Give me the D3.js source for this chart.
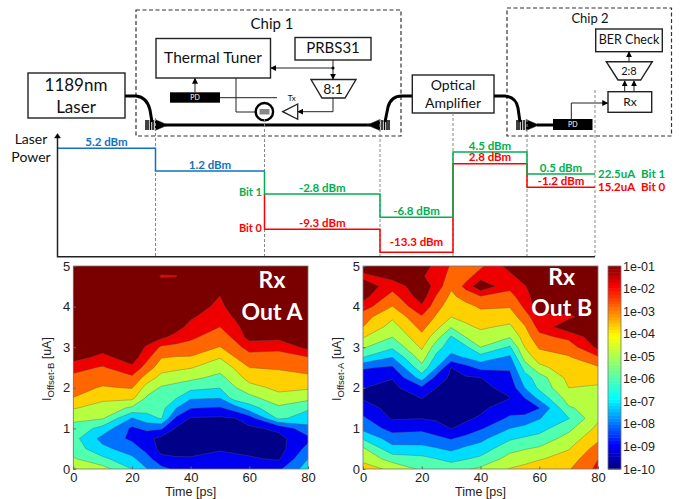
<!DOCTYPE html>
<html>
<head>
<meta charset="utf-8">
<style>
  html, body { margin: 0; padding: 0; background: #fff; }
  svg { display: block; }
  text { font-family: Lato, "Open Sans", sans-serif; }
  .axis text, text.plot-label { font-family: "Liberation Sans", Arial, sans-serif; fill: #222; }
</style>
</head>
<body>
<div id="container"></div>
<script src="https://cdn.jsdelivr.net/npm/d3@7/dist/d3.min.js"></script>
<script>
// time and current samples shared by both contour maps
const timesPs = [0, 10, 20, 25, 30, 35, 40, 50, 55, 60, 70, 80];
const currentsUa = [0, 0.25, 0.5, 0.75, 1, 1.25, 1.5, 1.75, 2, 2.25, 2.5, 2.75, 3, 3.25, 3.5, 3.75, 4, 4.25, 4.5, 4.75, 5];

// log10(BER), one row per time sample
const berOutA = [
  [-3.9, -4.9, -5.45, -5.65, -5.3, -4.8, -3.93, -3.02, -2.65, -2.28, -1.6, -0.57, -0.3, -0.3, -0.3, -0.3, -0.3, -0.3, -0.3, -0.3, -0.3],
  [-4.6, -5.77, -6.74, -7.33, -6.37, -4.9, -4.38, -3.8, -3.09, -2.58, -2.1, -1.29, -0.56, -0.3, -0.3, -0.3, -0.3, -0.3, -0.3, -0.3, -0.3],
  [-6, -6.78, -7.51, -8.2, -8.19, -7.06, -5.19, -3.74, -2.94, -2.21, -1.22, -0.44, -0.3, -0.3, -0.3, -0.3, -0.3, -0.3, -0.3, -0.3, -0.3],
  [-6.95, -7.6, -8.32, -8.72, -7.76, -6.4, -5.6, -5.13, -4.42, -3.4, -2.41, -1.7, -1.12, -0.44, -0.3, -0.3, -0.3, -0.3, -0.3, -0.3, -0.3],
  [-7.7, -8.74, -9.33, -9.27, -7.88, -5.91, -5.65, -5.38, -5.12, -4.34, -3.58, -2.94, -2.16, -0.77, -0.3, -0.3, -0.3, -0.3, -0.3, -1.1, -0.3],
  [-8.2, -8.91, -9.31, -9.52, -9.1, -8.17, -6.96, -5.93, -5.33, -4.59, -3.75, -3.06, -2.3, -1.35, -0.56, -0.3, -0.3, -0.3, -0.3, -1.05, -0.3],
  [-8.4, -8.92, -9.31, -9.56, -9.32, -9.09, -7.96, -6.87, -5.71, -4.74, -3.93, -3.07, -2.39, -1.81, -1.35, -0.84, -0.3, -0.3, -0.3, -0.3, -0.3],
  [-8.3, -8.71, -9.09, -9.41, -9.47, -9.15, -8.13, -6.96, -5.97, -5.29, -4.62, -3.94, -3.04, -2.51, -2, -1.67, -1.34, -1.01, -0.3, -0.3, -0.3],
  [-8.4, -8.82, -9.16, -9.44, -9.28, -9.02, -7.53, -5.53, -5.08, -4.5, -3.9, -3.02, -2.37, -1.8, -1.36, -0.86, -0.3, -0.3, -0.3, -0.3, -0.3],
  [-8.3, -8.9, -9.26, -9.45, -9.18, -8.5, -6.45, -5.33, -4.38, -3.61, -3, -2.39, -1.61, -0.6, -0.3, -0.3, -0.3, -0.3, -0.3, -0.3, -0.3],
  [-8.2, -9.12, -9.44, -9.27, -8.8, -5.79, -5.21, -4.35, -3.75, -3.33, -2.9, -2.4, -1.74, -0.7, -0.3, -0.3, -0.3, -0.3, -0.3, -0.3, -0.3],
  [-6.5, -7, -7.66, -8.28, -7.29, -6.49, -5.85, -4.71, -3.87, -3.21, -2.61, -2.05, -0.7, -0.3, -0.3, -0.3, -0.3, -0.3, -0.3, -0.3, -0.3]
];

const berOutB = [
  [-3.6, -4.24, -4.85, -6.1, -7.3, -7.85, -8.49, -9.11, -8.98, -8.47, -7.9, -6, -4.88, -3.93, -3, -2.6, -1.5, -0.6, -0.3, -1.28, -0.3],
  [-4.2, -5.45, -6.67, -7.51, -8.36, -9.12, -9.39, -9.55, -9.26, -8.95, -8.13, -7, -5.83, -4.99, -4.42, -3.81, -3.03, -2.4, -1.59, -0.62, -0.3],
  [-5.2, -5.7, -6.7, -7.55, -8.2, -9.03, -9.55, -8.97, -8.2, -6.53, -5.32, -4.5, -3.84, -3.27, -2.69, -2.1, -1.16, -0.45, -0.3, -0.95, -0.5],
  [-5.3, -6, -6.93, -7.74, -8.59, -9.15, -9.4, -9.31, -9, -8.39, -7, -6.29, -5.55, -4.6, -3.69, -3.13, -2.6, -2.08, -1.4, -1.2, -1.3],
  [-5.4, -6.32, -7.2, -8.08, -9.03, -9.19, -9.39, -9.6, -9.4, -9.2, -9, -7.28, -6.59, -6.13, -4.92, -3.98, -3.6, -3.22, -2.84, -2.47, -2.1],
  [-5.1, -6.06, -6.82, -7.66, -8.71, -9.16, -9.38, -9.51, -9.32, -9.11, -8.35, -6.91, -6.2, -4.98, -4.19, -3.7, -3.31, -2.6, -1.7, -2.4, -2.4],
  [-4.8, -5.79, -6.54, -7.28, -8.12, -8.88, -9.2, -9.45, -9.29, -9.02, -7.7, -6.42, -5, -4.4, -3.85, -3.39, -2.87, -2.03, -0.2, -1.48, -2.2],
  [-3.95, -4.61, -5.32, -6.14, -7, -7.83, -8.46, -9.03, -8.65, -8.29, -7.86, -7.19, -6.14, -4.94, -4.18, -3.54, -2.93, -2.32, -1.76, -1.26, -0.6],
  [-3.7, -4.38, -5.06, -5.87, -6.68, -7.75, -8.45, -8, -7, -6.43, -5.63, -4.63, -4, -3.55, -3.11, -2.42, -1.83, -1.45, -1.08, -0.44, -0.3],
  [-3.3, -4.09, -4.85, -5.65, -6.38, -7.06, -8.05, -6.7, -5.8, -5.5, -4.3, -3.49, -2.88, -2.27, -1.66, -1.3, -0.3, -0.3, -0.3, -0.3, -0.3],
  [-3.1, -3.58, -4.06, -4.6, -5.26, -6.05, -5.13, -4.54, -4, -3.7, -3.39, -3.09, -2.56, -1.75, -0.3, -1.2, -0.3, -0.3, -0.3, -0.3, -0.3],
  [-1.75, -2.02, -2.57, -3.21, -3.74, -4.17, -4.47, -4.42, -4.13, -3.69, -3.13, -2.14, -0.74, -0.3, -0.3, -0.3, -0.3, -0.3, -0.3, -0.3, -0.3]
];

const levels = [-20, -9, -8, -7, -6, -5, -4, -3, -2, -1];
const bandColors = ["#000088", "#0000f0", "#0070ff", "#00dcff", "#50ffb0", "#b5ff40", "#ffd000", "#ff6600", "#ee0000", "#7a0000"];
const colorbarTicks = [-10, -9, -8, -7, -6, -5, -4, -3, -2, -1];
const jetStops = ["#000080", "#0000ff", "#00ffff", "#ffff00", "#ff0000", "#800000"];
const jetPositions = [0, 0.11, 0.34, 0.65, 0.89, 1];

// laser power staircase, dBm per stage
const stages = [0, 1, 2, 3, 4, 5, 6];
const powerBlue = [5.2, 1.2];
const powerBit1 = [-2.8, -6.8, 4.5, 0.5];
const powerBit0 = [-9.3, -13.3, 2.8, -1.2];
const dBmLevels = [-13.3, -9.3, -6.8, -2.8, -1.2, 0.5, 1.2, 2.8, 4.5, 5.2];

const BLUE = "#1272c0";
const GREEN = "#00b050";
const RED = "#ff0000";

const svg = d3
  .select("#container")
  .append("svg")
  .attr("width", 686)
  .attr("height", 499);

const defs = svg.append("defs");

defs
  .append("marker")
  .attr("id", "arrow")
  .attr("viewBox", "0 0 8 8")
  .attr("refX", 7)
  .attr("refY", 4)
  .attr("markerWidth", 6)
  .attr("markerHeight", 6)
  .attr("markerUnits", "userSpaceOnUse")
  .attr("orient", "auto")
  .append("path")
  .attr("d", "M0,0L8,4L0,8Z")
  .attr("fill", "#000");

function addBox(x, y, w, h) {
  svg
    .append("rect")
    .attr("x", x)
    .attr("y", y)
    .attr("width", w)
    .attr("height", h)
    .attr("fill", "#fff")
    .attr("stroke", "#222")
    .attr("stroke-width", 1.4);
}

function addLabel(x, y, txt, size, opts = {}) {
  return svg
    .append("text")
    .attr("x", x)
    .attr("y", y)
    .attr("dy", "0.35em")
    .attr("text-anchor", opts.anchor || "middle")
    .attr("font-size", size)
    .attr("font-weight", opts.weight || "normal")
    .attr("fill", opts.fill || "#111")
    .text(txt);
}

function addWire(d, arrow) {
  const p = svg
    .append("path")
    .attr("d", d)
    .attr("fill", "none")
    .attr("stroke", "#222")
    .attr("stroke-width", 1);
  if (arrow) p.attr("marker-end", "url(#arrow)");
}

function addThick(d) {
  svg
    .append("path")
    .attr("d", d)
    .attr("fill", "none")
    .attr("stroke", "#000")
    .attr("stroke-width", 3);
}

function addShape(d, fill, sw) {
  svg
    .append("path")
    .attr("d", d)
    .attr("fill", fill)
    .attr("stroke", "#222")
    .attr("stroke-width", sw);
}

// grating coupler: taper plus a few bars, dir = 1 taper to the right
function addCoupler(x, y, dir) {
  addShape(`M${x},${y - 5.5}L${x + dir * 13},${y}L${x},${y + 5.5}Z`, "#000", 0.5);
  [2, 4.5, 7, 9].forEach(dx => {
    svg
      .append("line")
      .attr("x1", x - dir * dx)
      .attr("x2", x - dir * dx)
      .attr("y1", y - 5)
      .attr("y2", y + 5)
      .attr("stroke", "#000")
      .attr("stroke-width", 1.5);
  });
}

function addPd(x, y, w, h) {
  svg
    .append("rect")
    .attr("x", x)
    .attr("y", y)
    .attr("width", w)
    .attr("height", h)
    .attr("fill", "#000");
  addLabel(x + w / 2, y + h / 2, "PD", 7, { fill: "#fff" });
}

function addDashedBox(x, y, w, h) {
  svg
    .append("rect")
    .attr("x", x)
    .attr("y", y)
    .attr("width", w)
    .attr("height", h)
    .attr("fill", "none")
    .attr("stroke", "#333")
    .attr("stroke-width", 1.2)
    .attr("stroke-dasharray", "4,2.5");
}

// ---- system diagram ----
addDashedBox(136, 10, 265, 126);
addDashedBox(507, 8, 164.5, 128);
addLabel(272, 24, "Chip 1", 15);
addLabel(590, 18, "Chip 2", 13);

addBox(28, 73, 97, 45);
addLabel(76, 85, "1189nm", 17);
addLabel(76, 107, "Laser", 17);
addThick("M125,96L136,96Q147,97 150,110L152,122");
addCoupler(155, 125, 1);

addThick("M165,125L370,125");
addCoupler(380, 125, -1);
addThick("M385,122L388,107Q391,96 402,96L412,96");
addBox(412.3, 75, 81.7, 38);
addLabel(453, 85, "Optical", 14);
addLabel(453, 103, "Amplifier", 14);
addThick("M494,96L505,96Q516,97 518,108L520,122");
addCoupler(526, 125, 1);
addThick("M537,125L553,125");
addPd(553, 119, 39.5, 11);

addBox(156, 38.5, 114.5, 39.5);
addLabel(213, 58, "Thermal Tuner", 15.5);
addBox(295, 37.5, 76, 22.5);
addLabel(333, 48, "PRBS31", 15);
addShape("M311,79.5L356,79.5L345,98L322,98Z", "#fff", 1.4);
addLabel(333, 89, "8:1", 14);

addPd(170, 92.3, 50, 10.4);
addWire("M195,92L195,78.5", true);
addWire("M220,97.7L277,97.7");
addWire("M236,78L236,112L256,112");
addWire("M333,60L333,79", true);
addWire("M333,68L271,68", true);
svg.append("circle").attr("cx", 333).attr("cy", 68).attr("r", 1.5).attr("fill", "#000");
addWire("M333,98L333,111.7L298,111.7", true);
addShape("M282.7,111.7L297.7,104L297.7,119.3Z", "#fff", 1.3);
addLabel(291.7, 98, "Tx", 8);

svg
  .append("circle")
  .attr("cx", 264.4)
  .attr("cy", 111.7)
  .attr("r", 8.7)
  .attr("fill", "#fff")
  .attr("stroke", "#000")
  .attr("stroke-width", 2.4);
svg
  .append("rect")
  .attr("x", 259.5)
  .attr("y", 109)
  .attr("width", 10)
  .attr("height", 5.5)
  .attr("fill", "#888");

addBox(595.7, 29, 66.6, 22.7);
addLabel(629, 40, "BER Check", 12.5);
addShape("M606.3,61.7L652.3,61.7L640.7,80L618,80Z", "#fff", 1.4);
addLabel(629, 71, "2:8", 11);
addBox(608, 91.7, 43.7, 20.6);
addLabel(630, 102, "Rx", 12);
addWire("M629,61.5L629,52", true);
addWire("M624.7,91.5L624.7,81", true);
addWire("M634,91.5L634,81", true);
addWire("M571.3,119L571.3,103L607.5,103", true);

// ---- laser power staircase ----
const stageX = d3
  .scaleLinear()
  .domain(stages)
  .range([57.5, 155.5, 264.5, 380, 453, 527, 595]);

// reference levels are not evenly spaced, so the scale is piecewise
const powerY = d3
  .scaleLinear()
  .domain(dBmLevels)
  .range([252.3, 229.3, 217.3, 194, 187.3, 174, 171, 163.7, 152, 148.3]);

const guideTops = [118, 119, 119, 113, 119, 90];
guideTops.forEach((top, i) => {
  svg
    .append("line")
    .attr("x1", stageX(i + 1))
    .attr("x2", stageX(i + 1))
    .attr("y1", top)
    .attr("y2", 256.5)
    .attr("stroke", "#888")
    .attr("stroke-width", 1)
    .attr("stroke-dasharray", "3,2");
});

// values hold one level per stage, startLevel is where the trace drops in from
function addSteps(values, firstStage, color, startLevel) {
  const pts = values.map((value, i) => ({ stage: firstStage + i, value }));
  pts.push({ stage: firstStage + values.length, value: values[values.length - 1] });
  if (startLevel !== undefined) pts.unshift({ stage: firstStage, value: startLevel });
  const line = d3
    .line()
    .x(d => stageX(d.stage))
    .y(d => powerY(d.value))
    .curve(d3.curveStepAfter);
  svg
    .append("path")
    .datum(pts)
    .attr("d", line)
    .attr("fill", "none")
    .attr("stroke", color)
    .attr("stroke-width", 1.5);
}

addSteps(powerBit0, 2, RED, powerBit1[0]);
addSteps(powerBit1, 2, GREEN, powerBlue[1]);
addSteps(powerBlue, 0, BLUE);

svg
  .append("path")
  .attr("d", `M${stageX(0)},136L${stageX(0)},256.7L${stageX(6)},256.7`)
  .attr("fill", "none")
  .attr("stroke", "#222")
  .attr("stroke-width", 1.5);
addShape(`M${stageX(0) - 3},138L${stageX(0)},133.5L${stageX(0) + 3},138Z`, "#000", 0.5);

addLabel(31, 139, "Laser", 14);
addLabel(31, 157, "Power", 14);
addLabel(262, 192, "Bit 1", 11, { anchor: "end", fill: GREEN, weight: "bold" });
addLabel(262, 228, "Bit 0", 11, { anchor: "end", fill: RED, weight: "bold" });

function addPowerLabels(values, firstStage, color) {
  values.forEach((v, i) => {
    const x = (stageX(firstStage + i) + stageX(firstStage + i + 1)) / 2;
    // the lowest label sits higher, clear of its line
    const offset = v === -13.3 ? 10.5 : 6.5;
    addLabel(x, powerY(v) - offset, `${d3.format(".1f")(v)} dBm`.replace("−", "-"), 11.5, {
      fill: color,
      weight: "bold"
    });
  });
}
addPowerLabels(powerBlue, 0, BLUE);
addPowerLabels(powerBit1, 2, GREEN);
addPowerLabels(powerBit0, 2, RED);

addLabel(598, 174, "22.5uA", 11.5, { anchor: "start", fill: GREEN, weight: "bold" });
addLabel(641, 174, "Bit 1", 11.5, { anchor: "start", fill: GREEN, weight: "bold" });
addLabel(598, 186.5, "15.2uA", 11.5, { anchor: "start", fill: RED, weight: "bold" });
addLabel(641, 186.5, "Bit 0", 11.5, { anchor: "start", fill: RED, weight: "bold" });

// ---- contour maps ----
const plotTop = 266;
const plotBottom = 469;

const yScale = d3.scaleLinear().domain([0, 5]).range([plotBottom, plotTop]);

function addContourPlot(id, values, left, right, yLabel, labelX, textX, textYs) {
  const xScale = d3.scaleLinear().domain([0, 80]).range([left, right]);
  const n = timesPs.length;
  const m = currentsUa.length;

  // d3.contours puts sample i at i + 0.5, time samples are not evenly spaced
  const colToTime = d3.scaleLinear().domain(timesPs.map((_, i) => i + 0.5)).range(timesPs);
  const rowToCurrent = d3.scaleLinear().domain(currentsUa.map((_, j) => j + 0.5)).range(currentsUa);

  const flat = [];
  currentsUa.forEach((_, j) => timesPs.forEach((_, i) => flat.push(values[i][j])));

  const contours = d3.contours().size([n, m]).thresholds(levels)(flat);

  const path = d3.geoPath(
    d3.geoTransform({
      point(x, y) {
        this.stream.point(xScale(colToTime(x)), yScale(rowToCurrent(y)));
      }
    })
  );

  defs
    .append("clipPath")
    .attr("id", "clip-" + id)
    .append("rect")
    .attr("x", left)
    .attr("y", plotTop)
    .attr("width", right - left)
    .attr("height", plotBottom - plotTop);

  const g = svg.append("g").attr("clip-path", `url(#clip-${id})`);

  g.selectAll("path")
    .data(contours)
    .enter()
    .append("path")
    .attr("d", path)
    .attr("fill", (d, i) => bandColors[i])
    .attr("stroke", (d, i) => (i === 0 ? "none" : "#555"))
    .attr("stroke-opacity", 0.7)
    .attr("stroke-width", 0.5);

  svg
    .append("rect")
    .attr("x", left)
    .attr("y", plotTop)
    .attr("width", right - left)
    .attr("height", plotBottom - plotTop)
    .attr("fill", "none")
    .attr("stroke", "#777")
    .attr("stroke-width", 0.8);

  svg
    .append("g")
    .attr("class", "axis")
    .attr("transform", `translate(0,${plotBottom})`)
    .call(d3.axisBottom(xScale).tickValues([0, 20, 40, 60, 80]).tickSize(-2.5).tickPadding(4))
    .call(a => a.select(".domain").remove())
    .call(a => a.selectAll("line").attr("stroke", "#666"))
    .call(a => a.selectAll("text").attr("font-size", 13));

  svg
    .append("g")
    .attr("class", "axis")
    .attr("transform", `translate(${left},0)`)
    .call(d3.axisLeft(yScale).tickValues([0, 1, 2, 3, 4, 5]).tickFormat(d3.format("d")).tickSize(-2.5).tickPadding(3))
    .call(a => a.select(".domain").remove())
    .call(a => a.selectAll("line").attr("stroke", "#666"))
    .call(a => a.selectAll("text").attr("font-size", 13));

  svg
    .append("text")
    .attr("class", "plot-label")
    .attr("x", (left + right) / 2)
    .attr("y", 496)
    .attr("text-anchor", "middle")
    .attr("font-size", 12.5)
    .text("Time [ps]");

  const yl = svg
    .append("text")
    .attr("class", "plot-label")
    .attr("transform", `translate(${labelX},369) rotate(-90)`)
    .attr("text-anchor", "middle")
    .attr("font-size", 12.5);
  yl.append("tspan").text("I");
  yl.append("tspan").attr("font-size", 9.5).attr("dy", 3).text(yLabel);
  yl.append("tspan").attr("dy", -3).text(" [uA]");

  addLabel(textX, textYs[0], "Rx", 23, { fill: "#fff", weight: "bold" });
  addLabel(textX, textYs[1], id === "a" ? "Out A" : "Out B", 23, { fill: "#fff", weight: "bold" });
}

addContourPlot("a", berOutA, 73.3, 308, "Offset-B", 51, 272, [280, 312]);
addContourPlot("b", berOutB, 363, 598, "Offset-A", 341, 561.7, [277, 308]);

// ---- colorbar ----
const cbY = d3.scaleLinear().domain([-10, -1]).range([plotBottom, plotTop]);
const jet = d3
  .scaleLinear()
  .domain(jetPositions.map(p => -10 + 9 * p))
  .range(jetStops);
const cbSteps = d3.range(-10, -1, 9 / 64);

svg
  .append("g")
  .selectAll("rect")
  .data(cbSteps)
  .enter()
  .append("rect")
  .attr("x", 608)
  .attr("width", 13)
  .attr("y", d => cbY(d + 9 / 64))
  .attr("height", d => cbY(d) - cbY(d + 9 / 64) + 0.5)
  .attr("fill", d => jet(d));

svg
  .append("rect")
  .attr("x", 608)
  .attr("y", plotTop)
  .attr("width", 13)
  .attr("height", plotBottom - plotTop)
  .attr("fill", "none")
  .attr("stroke", "#777")
  .attr("stroke-width", 0.8);

svg
  .append("g")
  .attr("class", "axis")
  .attr("transform", "translate(621,0)")
  .call(
    d3
      .axisRight(cbY)
      .tickValues(colorbarTicks)
      .tickSize(0)
      .tickPadding(2)
      .tickFormat(d => "1e-" + String(-d).padStart(2, "0"))
  )
  .call(a => a.select(".domain").remove())
  .call(a => a.selectAll("text").attr("font-size", 12.5));
</script>
</body>
</html>
